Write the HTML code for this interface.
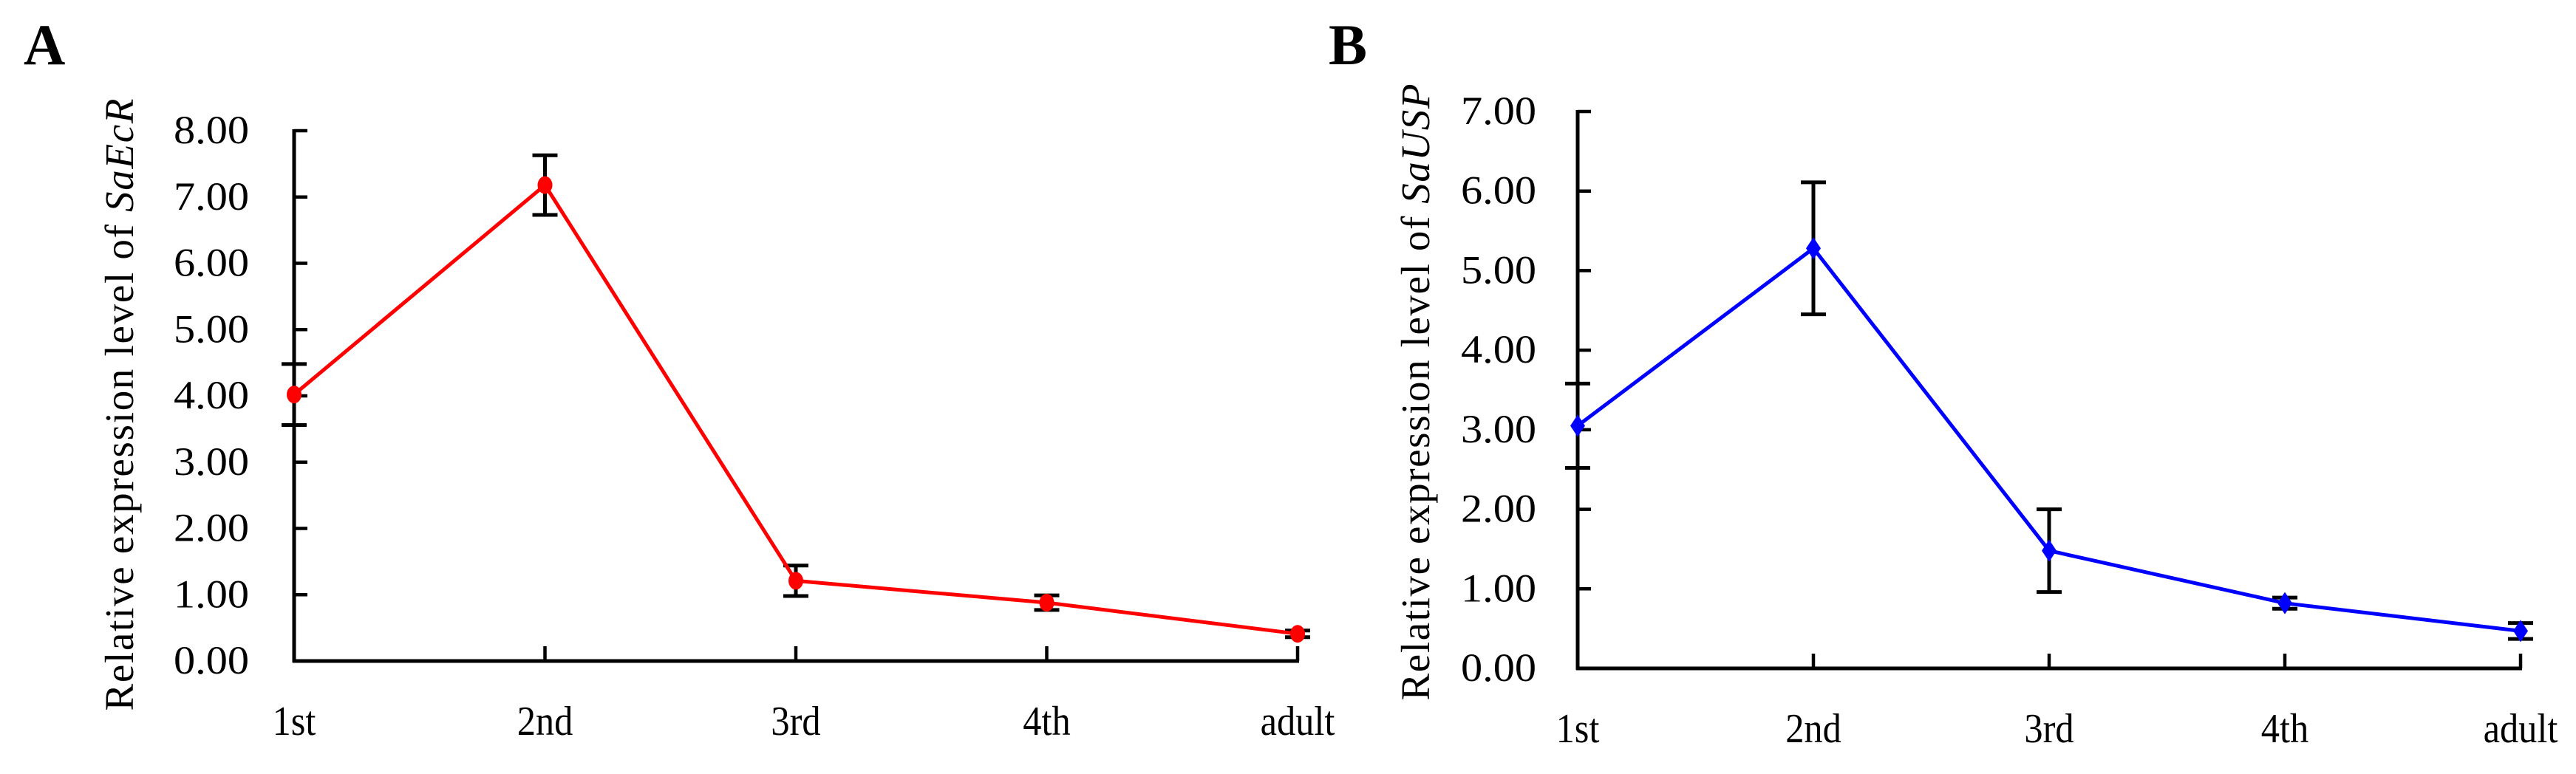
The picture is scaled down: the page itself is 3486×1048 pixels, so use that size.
<!DOCTYPE html>
<html><head><meta charset="utf-8"><style>
html,body{margin:0;padding:0;background:#fff;}
svg{display:block;}
text{font-family:"Liberation Serif",serif;fill:#000;}
</style></head><body>
<svg id="fig" width="3486" height="1048" viewBox="0 0 3486 1048"></svg>
<script>
const categories = ["1st","2nd","3rd","4th","adult"];
const ecrValues = [4.02, 7.18, 1.21, 0.88, 0.41];
const ecrErrors = [0.46, 0.45, 0.23, 0.11, 0.05];
const uspValues = [3.05, 5.28, 1.48, 0.82, 0.47];
const uspErrors = [0.53, 0.83, 0.52, 0.07, 0.10];
const ecrTicks = ["0.00","1.00","2.00","3.00","4.00","5.00","6.00","7.00","8.00"];
const uspTicks = ["0.00","1.00","2.00","3.00","4.00","5.00","6.00","7.00"];

const NS = "http://www.w3.org/2000/svg";
const svg = document.getElementById("fig");
function mk(tag, attrs, parent){
  const e = document.createElementNS(NS, tag);
  for (const k in attrs) e.setAttribute(k, attrs[k]);
  (parent||svg).appendChild(e);
  return e;
}

function panel(cfg){
  const g = mk("g", {});
  
  
  const yMax = cfg.ticks.length - 1;
  const yS = v => cfg.y0 - (v / yMax) * (cfg.y0 - cfg.yTop);
  const xS = i => cfg.x0 + i * (cfg.x1 - cfg.x0) / (categories.length - 1);

  const L = mk("text", {x: cfg.letterX, y: 87, "font-size": 78, "font-weight": "bold"}, g);
  L.textContent = cfg.letter;
  
  

  const ya = mk("line", {x1: cfg.x0, y1: yS(0)+2, x2: cfg.x0, y2: yS(yMax)-2, stroke:"#000","stroke-width":5}, g);
  
  
  const xa = mk("line", {x1: cfg.x0-2, y1: yS(0), x2: xS(categories.length-1)+2, y2: yS(0), stroke:"#000","stroke-width":5}, g);
  
  

  cfg.ticks.forEach((t, i) => {
    const y = yS(i);
    const tk = mk("line", {x1: cfg.x0, y1: y, x2: cfg.x0 + 18, y2: y, stroke:"#000","stroke-width":4.5}, g);
    
    
    const tx = mk("text", {x: 0, y: 0, "font-size": 54, "text-anchor":"end",
      transform: `translate(${cfg.tickRight},${y+17}) scale(1.08,1)`}, g);
    tx.textContent = t;
    
    
  });

  categories.forEach((c, i) => {
    const x = xS(i);
    if (i > 0) {
      const tk = mk("line", {x1: x, y1: yS(0), x2: x, y2: yS(0) - 20, stroke:"#000","stroke-width":4.5}, g);
      
      
    }
    const tx = mk("text", {x: 0, y: 0, "font-size": 56, "text-anchor":"middle",
      transform: `translate(${x},${cfg.y0 + 100}) scale(0.9,1)`}, g);
    tx.textContent = c;
    
    
  });

  const tt = mk("text", {x: 0, y: 0, "font-size": 55, "text-anchor":"middle",
    transform: `translate(${cfg.titleX},${cfg.titleMid}) rotate(-90)`,
    textLength: cfg.titleLen, lengthAdjust: "spacing"}, g);
  
  
  tt.appendChild(document.createTextNode("Relative expression level of "));
  const it = mk("tspan", {"font-style":"italic"}, tt);
  it.textContent = cfg.gene;

  cfg.values.forEach((v, i) => {
    const x = xS(i), e = cfg.errors[i];
    const eg = mk("g", {stroke:"#000","stroke-width":5}, g);
    
    
    mk("line", {x1:x, y1:yS(v+e), x2:x, y2:yS(v-e)}, eg);
    mk("line", {x1:x-17, y1:yS(v+e), x2:x+17, y2:yS(v+e)}, eg);
    mk("line", {x1:x-17, y1:yS(v-e), x2:x+17, y2:yS(v-e)}, eg);
  });

  const pts = cfg.values.map((v, i) => xS(i) + "," + yS(v)).join(" ");
  const pl = mk("polyline", {points: pts, fill:"none", stroke: cfg.color, "stroke-width": 5}, g);
  
  

  cfg.values.forEach((v, i) => {
    const x = xS(i), y = yS(v);
    let m;
    if (cfg.marker === "circle") m = mk("ellipse", {cx:x, cy:y, rx:10, ry:12, fill:cfg.color}, g);
    else m = mk("polygon", {points:`${x},${y-15} ${x+10},${y} ${x},${y+15} ${x-10},${y}`, fill:cfg.color}, g);
    
    
  });
}

panel({name:"chart-a", letter:"A", letterX:32, gene:"SaEcR", ticks:ecrTicks, values:ecrValues, errors:ecrErrors,
  color:"#ff0000", marker:"circle", x0:398, x1:1756, y0:895, yTop:177, tickRight:337,
  titleX:180, titleMid:548, titleLen:829});
panel({name:"chart-b", letter:"B", letterX:1798, gene:"SaUSP", ticks:uspTicks, values:uspValues, errors:uspErrors,
  color:"#0000ff", marker:"diamond", x0:2135, x1:3411, y0:905, yTop:151, tickRight:2079,
  titleX:1934, titleMid:531, titleLen:835});
</script>
</body></html>
